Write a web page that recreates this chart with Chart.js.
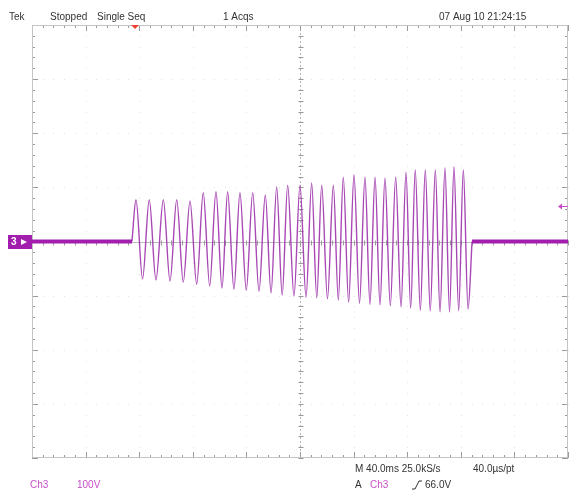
<!DOCTYPE html>
<html>
<head>
<meta charset="utf-8">
<script src="https://cdn.jsdelivr.net/npm/chart.js@4.4.1/dist/chart.umd.min.js"></script>
<style>
  html, body { margin: 0; padding: 0; background: #fff; }
  #wrap { width: 571px; height: 494px; position: relative; }
</style>
</head>
<body>
<div id="wrap"><canvas id="scope" width="571" height="494"></canvas></div>
<script>
// ---- scope settings (40 ms/div, 100 V/div, 10 x 8 divisions) ----
const timeDivMs = 40;
const voltDiv = 100;
const timeRange = [0, 400];
const voltRange = [-400, 400];
const triggerTimeMs = 76.9;
const triggerLevelV = 66;

// ---- trace: peaks and troughs of the burst ----
const burstTimeMs = [74.6, 77.6, 82.5, 87.5, 92.5, 98.0, 103.0, 108.0, 112.9, 117.9, 122.9,
  127.8, 132.6, 137.3, 141.8, 146.0, 150.7, 155.2, 159.9, 164.7, 169.4, 174.1, 178.4,
  182.6, 186.7, 190.8, 195.5, 200.0, 204.5, 208.7, 212.5, 216.2, 220.5, 224.9, 228.6,
  232.3, 236.3, 240.3, 244.4, 248.5, 252.2, 256.0, 259.7, 263.4, 267.4, 271.4, 275.4,
  279.1, 282.6, 286.0, 289.8, 293.5, 297.2, 301.0, 304.5, 308.2, 311.6, 314.9, 318.4,
  321.9, 325.4, 328.4];
const burstVolts = [0, 77, -69, 77, -71, 77, -73, 77, -75, 75, -79,
  90, -82, 92, -86, 92, -88, 90, -90, 90, -92, 86, -95,
  101, -99, 104, -101, 104, -103, 108, -104, 104, -106, 104, -108,
  119, -112, 123, -114, 119, -116, 119, -117, 117, -119, 119, -121,
  128, -123, 132, -127, 132, -128, 132, -130, 136, -130, 138, -128,
  132, -125, 0];

// flat (noisy) ground level before and after the burst
const preTimeMs = [0, 74.6];
const postTimeMs = [328.4, 400];
const groundVolts = [0, 0];

const toPoints = (xs, ys) => xs.map((x, i) => ({ x: x, y: ys[i] }));

// graticule: border, centre cross, faint division dots
const graticule = {
  id: 'graticule',
  beforeDatasetsDraw(chart) {
    const { ctx, chartArea: a, scales: { x, y } } = chart;
    ctx.save();
    // division dots
    ctx.fillStyle = '#e2e2e2';
    for (let t = timeRange[0] + timeDivMs; t < timeRange[1]; t += timeDivMs) {
      if (t === 200) continue;
      const px = Math.round(x.getPixelForValue(t));
      for (let v = voltRange[0]; v <= voltRange[1]; v += voltDiv / 5) {
        ctx.fillRect(px, Math.round(y.getPixelForValue(v)), 1, 1);
      }
    }
    for (let v = voltRange[0] + voltDiv; v < voltRange[1]; v += voltDiv) {
      if (v === 0) continue;
      const py = Math.round(y.getPixelForValue(v));
      for (let t = timeRange[0]; t <= timeRange[1]; t += timeDivMs / 5) {
        ctx.fillRect(Math.round(x.getPixelForValue(t)), py, 1, 1);
      }
    }
    // centre lines
    const cx = Math.round(x.getPixelForValue(200)) + 0.5;
    const cy = Math.round(y.getPixelForValue(0)) + 0.5;
    ctx.strokeStyle = '#b4b4b4';
    ctx.lineWidth = 1;
    ctx.setLineDash([2, 2]);
    ctx.beginPath();
    ctx.moveTo(cx, a.top); ctx.lineTo(cx, a.bottom);
    ctx.stroke();
    ctx.setLineDash([]);
    ctx.strokeStyle = '#bcbcbc';
    ctx.beginPath();
    ctx.moveTo(a.left, cy); ctx.lineTo(a.right, cy);
    ctx.stroke();
    // ticks on centre lines and border
    ctx.strokeStyle = '#9a9a9a';
    ctx.beginPath();
    let n = 0;
    for (let t = timeRange[0]; t <= timeRange[1]; t += timeDivMs / 5, n++) {
      const px = Math.round(x.getPixelForValue(t)) + 0.5;
      const len = n % 5 === 0 ? 6 : 3;
      ctx.moveTo(px, a.top); ctx.lineTo(px, a.top + len);
      ctx.moveTo(px, a.bottom); ctx.lineTo(px, a.bottom - len);
      ctx.moveTo(px, cy - 2); ctx.lineTo(px, cy + 3);
    }
    n = 0;
    for (let v = voltRange[0]; v <= voltRange[1]; v += voltDiv / 5, n++) {
      const py = Math.round(y.getPixelForValue(v)) + 0.5;
      const len = n % 5 === 0 ? 6 : 3;
      ctx.moveTo(a.left, py); ctx.lineTo(a.left + len, py);
      ctx.moveTo(a.right, py); ctx.lineTo(a.right - len, py);
      ctx.moveTo(cx - 2, py); ctx.lineTo(cx + 3, py);
    }
    ctx.stroke();
    // frame
    ctx.strokeStyle = '#c4c4c4';
    ctx.strokeRect(a.left + 0.5, a.top + 0.5, a.right - a.left - 1, a.bottom - a.top - 1);
    ctx.restore();
  }
};

// readouts and markers around the screen
const readouts = {
  id: 'readouts',
  afterDraw(chart) {
    const { ctx, chartArea: a, scales: { x, y } } = chart;
    ctx.save();
    ctx.textBaseline = 'middle';
    ctx.font = '10px "Liberation Sans", Arial, sans-serif';
    ctx.fillStyle = '#333';
    ctx.fillText('Tek', 9, 17);
    ctx.fillText('Stopped', 50, 17);
    ctx.fillText('Single Seq', 97, 17);
    ctx.fillText('1 Acqs', 223, 17);
    ctx.fillText('07 Aug 10 21:24:15', 439, 17);

    ctx.fillText('M 40.0ms 25.0kS/s', 355, 469);
    ctx.fillText('40.0\u00b5s/pt', 473, 469);
    ctx.fillText('A', 355, 485);
    ctx.fillText('66.0V', 425, 485);
    ctx.fillStyle = '#c64fc6';
    ctx.fillText('Ch3', 370, 485);
    ctx.fillText('Ch3', 30, 485);
    ctx.fillText('100V', 77, 485);
    // slope symbol
    ctx.strokeStyle = '#333';
    ctx.beginPath();
    ctx.moveTo(412, 489); ctx.lineTo(415, 489); ctx.lineTo(419, 481); ctx.lineTo(422, 481);
    ctx.stroke();

    // trigger position marker
    const tx = x.getPixelForValue(triggerTimeMs);
    ctx.fillStyle = '#f04030';
    ctx.beginPath();
    ctx.moveTo(tx - 4, a.top); ctx.lineTo(tx + 4, a.top); ctx.lineTo(tx, a.top + 4);
    ctx.closePath(); ctx.fill();

    // trigger level marker
    const ty = Math.round(y.getPixelForValue(triggerLevelV)) + 0.5;
    ctx.strokeStyle = '#c64fc6';
    ctx.fillStyle = '#c64fc6';
    ctx.beginPath();
    ctx.moveTo(a.right - 8, ty); ctx.lineTo(a.right, ty);
    ctx.stroke();
    ctx.beginPath();
    ctx.moveTo(a.right - 10, ty); ctx.lineTo(a.right - 6, ty - 3); ctx.lineTo(a.right - 6, ty + 3);
    ctx.closePath(); ctx.fill();

    // channel ground marker
    const gy = Math.round(y.getPixelForValue(0));
    ctx.fillStyle = '#a21fae';
    ctx.fillRect(8, gy - 7, a.left - 8, 14);
    ctx.fillStyle = '#fff';
    ctx.font = 'bold 10px "Liberation Sans", Arial, sans-serif';
    ctx.fillText('3', 11, gy + 0.5);
    ctx.beginPath();
    ctx.moveTo(21, gy - 3); ctx.lineTo(27, gy); ctx.lineTo(21, gy + 3);
    ctx.closePath(); ctx.fill();
    ctx.restore();
  }
};

new Chart(document.getElementById('scope'), {
  type: 'line',
  data: {
    datasets: [
      {
        data: toPoints(preTimeMs, groundVolts),
        borderColor: '#a21fae',
        borderWidth: 4
      },
      {
        data: toPoints(postTimeMs, groundVolts),
        borderColor: '#a21fae',
        borderWidth: 4
      },
      {
        data: toPoints(burstTimeMs, burstVolts),
        borderColor: 'rgba(158, 52, 172, 0.9)',
        borderWidth: 1.4,
        cubicInterpolationMode: 'monotone'
      }
    ]
  },
  plugins: [graticule, readouts],
  options: {
    responsive: false,
    animation: false,
    layout: { padding: { left: 32, top: 25, right: 3, bottom: 36 } },
    elements: { point: { radius: 0 } },
    scales: {
      x: { type: 'linear', min: timeRange[0], max: timeRange[1], display: false },
      y: { type: 'linear', min: voltRange[0], max: voltRange[1], display: false }
    },
    plugins: {
      legend: { display: false },
      tooltip: { enabled: false }
    }
  }
});
</script>
</body>
</html>
